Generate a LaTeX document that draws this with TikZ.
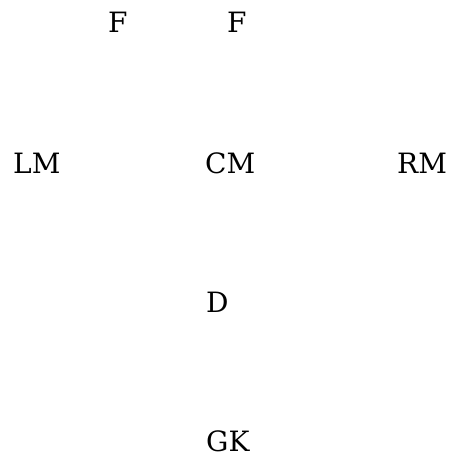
\documentclass[tikz,border=0pt]{standalone}
\usepackage{fontspec}
\setmainfont{DejaVu Serif}
\begin{document}
\begin{tikzpicture}[x=1pt,y=1pt,
  lbl/.style={inner sep=0pt,anchor=base west,text depth=0pt,font=\fontsize{28}{34}\selectfont}]
\useasboundingbox (0,0) rectangle (452,458);
\node[lbl] (f1) at (108,{458-33}) {F};
\node[lbl] (f2) at (227,{458-33}) {F};
\node[lbl] (lm) at (13,{458-174}) {LM};
\node[lbl] (cm) at (205,{458-174}) {CM};
\node[lbl] (rm) at (397,{458-174}) {RM};
\node[lbl] (d) at (206,{458-313}) {D};
\node[lbl] (gk) at (206,{458-452}) {GK};
\end{tikzpicture}
\end{document}
